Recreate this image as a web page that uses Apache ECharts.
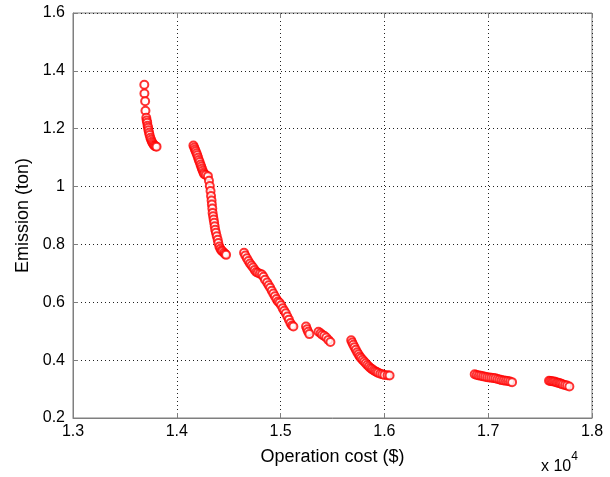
<!DOCTYPE html>
<html>
<head>
<meta charset="utf-8">
<script src="https://cdn.jsdelivr.net/npm/echarts@6/dist/echarts.min.js"></script>
<style>
  html, body { margin: 0; padding: 0; background: #fff; }
  #main { width: 610px; height: 477px; }
</style>
</head>
<body>
<div id="main"></div>
<script>
var cost = [
  13687, 13688, 13695, 13698, 13706, 13710, 13715, 13719, 13724, 13727,
  13733, 13738, 13745, 13752, 13760, 13768, 13777, 13785, 13795, 13805,
  14160, 14168, 14175, 14182, 14190, 14197, 14205, 14212, 14220, 14228,
  14235, 14242, 14250, 14258, 14265, 14280, 14300, 14310, 14318, 14325,
  14330, 14335, 14338, 14342, 14345, 14350, 14355, 14360, 14365, 14370,
  14377, 14385, 14394, 14400, 14410, 14420, 14430, 14440, 14455, 14465,
  14475,
  14648, 14660, 14675, 14690, 14705, 14720, 14735, 14750, 14765, 14780,
  14800, 14820, 14835, 14850, 14870, 14885, 14900, 14915, 14930, 14945,
  14960, 14975, 14990, 15005, 15020, 15035, 15050, 15065, 15080, 15095,
  15110, 15123,
  15245, 15255, 15265, 15277,
  15365, 15385, 15400, 15420, 15440, 15460, 15480,
  15680, 15690, 15700, 15712, 15725, 15738, 15750, 15762, 15775, 15790,
  15805, 15820, 15835, 15850, 15865, 15880, 15895, 15910, 15925, 15940,
  15960, 15980, 16000, 16030, 16050,
  16870, 16890, 16910, 16930, 16950, 16970, 16990, 17010, 17030, 17050,
  17070, 17090, 17110, 17130, 17150, 17170, 17190, 17210, 17230,
  17586, 17600, 17615, 17630, 17645, 17660, 17675, 17690, 17705, 17720,
  17740, 17760, 17782
];
var emission = [
  1.352, 1.322, 1.295, 1.262, 1.238, 1.228, 1.221, 1.210, 1.203, 1.195,
  1.186, 1.178, 1.169, 1.162, 1.155, 1.150, 1.145, 1.141, 1.139, 1.138,
  1.142, 1.135, 1.128, 1.122, 1.115, 1.108, 1.100, 1.092, 1.085, 1.076,
  1.069, 1.062, 1.055, 1.048, 1.043, 1.040, 1.036, 1.020, 1.002, 0.985,
  0.967, 0.952, 0.938, 0.924, 0.909, 0.897, 0.886, 0.875, 0.863, 0.851,
  0.840, 0.828, 0.816, 0.805, 0.793, 0.785, 0.779, 0.776, 0.771, 0.767,
  0.764,
  0.771, 0.762, 0.752, 0.743, 0.734, 0.727, 0.720, 0.712, 0.705, 0.702,
  0.699, 0.696, 0.688, 0.678, 0.668, 0.659, 0.650, 0.640, 0.630, 0.621,
  0.611, 0.603, 0.598, 0.590, 0.579, 0.571, 0.562, 0.551, 0.540, 0.528,
  0.520, 0.516,
  0.516, 0.507, 0.498, 0.490,
  0.498, 0.493, 0.488, 0.484, 0.478, 0.470, 0.463,
  0.469, 0.461, 0.453, 0.445, 0.436, 0.427, 0.420, 0.413, 0.407, 0.401,
  0.395, 0.389, 0.383, 0.378, 0.373, 0.369, 0.365, 0.362, 0.359, 0.356,
  0.353, 0.351, 0.349, 0.348, 0.347,
  0.351, 0.349, 0.347, 0.346, 0.344, 0.343, 0.341, 0.340, 0.339, 0.338,
  0.337, 0.335, 0.333, 0.331, 0.330, 0.329, 0.328, 0.326, 0.324,
  0.329, 0.328, 0.327, 0.326, 0.325, 0.323, 0.322, 0.320, 0.318, 0.316,
  0.314, 0.312, 0.309
];
var xMin = 13000, xMax = 18000, xStep = 1000
var yMin = 0.2, yMax = 1.6, yStep = 0.2

var points = cost.map(function (c, i) { return [c, emission[i]] })

var font = 'Liberation Sans, Arial, Helvetica, sans-serif'
var boxColor = '#7f7f7f'
var gridLine = { show: true, lineStyle: { color: '#222', type: [1, 3], width: 1 } }

var myChart = echarts.init(document.getElementById('main'))
myChart.setOption({
  animation: false,
  grid: {
    left: 73, right: 18, top: 13, bottom: 59,
    show: true, borderColor: boxColor, borderWidth: 1
  },
  xAxis: [{
    type: 'value',
    min: xMin, max: xMax, interval: xStep,
    name: 'Operation cost ($)',
    nameLocation: 'middle',
    nameGap: 30,
    nameTextStyle: { color: '#000', fontSize: 18, fontFamily: font },
    axisLine: { show: true, lineStyle: { color: boxColor } },
    axisTick: { show: true, inside: true, length: 5, lineStyle: { color: boxColor } },
    axisLabel: {
      color: '#000', fontSize: 16, fontFamily: font, margin: 6,
      formatter: function (v) { return (v / 10000).toFixed(1) }
    },
    splitLine: gridLine
  }, {
    type: 'value', position: 'top',
    min: xMin, max: xMax, interval: xStep,
    axisLine: { show: false },
    axisTick: { show: true, inside: true, length: 5, lineStyle: { color: boxColor } },
    axisLabel: { show: false },
    splitLine: { show: false }
  }],
  yAxis: [{
    type: 'value',
    min: yMin, max: yMax, interval: yStep,
    name: 'Emission (ton)',
    nameLocation: 'middle',
    nameGap: 40,
    nameTextStyle: { color: '#000', fontSize: 18, fontFamily: font },
    axisLine: { show: true, lineStyle: { color: boxColor } },
    axisTick: { show: true, inside: true, length: 5, lineStyle: { color: boxColor } },
    axisLabel: {
      color: '#000', fontSize: 16, fontFamily: font, margin: 8,
      formatter: function (v) { return String(Math.round(v * 10) / 10) }
    },
    splitLine: gridLine
  }, {
    type: 'value', position: 'right',
    min: yMin, max: yMax, interval: yStep,
    axisLine: { show: false },
    axisTick: { show: true, inside: true, length: 5, lineStyle: { color: boxColor } },
    axisLabel: { show: false },
    splitLine: { show: false }
  }],
  graphic: [{
    type: 'text',
    left: 541, top: 451,
    style: {
      text: '{b|x 10}{s|4}',
      rich: {
        b: { fontSize: 16, fontFamily: font, fill: '#000', padding: [8, 0, 0, 0] },
        s: { fontSize: 12, fontFamily: font, fill: '#000', verticalAlign: 'top' }
      }
    }
  }],
  series: [{
    type: 'scatter',
    data: points,
    symbol: 'emptyCircle',
    symbolSize: 8,
    itemStyle: { color: '#ff0000', borderColor: '#ff0000', borderWidth: 1 }
  }]
})
</script>
</body>
</html>
